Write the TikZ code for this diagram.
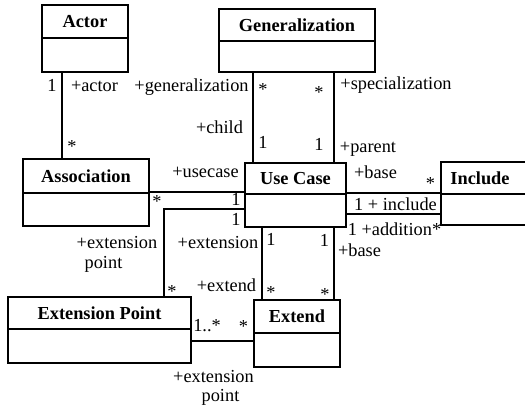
\documentclass[tikz,border=0pt]{standalone}
\usepackage{fontspec}
\setmainfont{Liberation Serif}
\tikzset{
  classbox/.style={draw, rectangle, line width=2bp, inner sep=0pt, outer sep=0pt},
  divider/.style={line width=2bp},
  classtitle/.style={font=\bfseries, inner sep=0pt},
  assocline/.style={line width=1.5bp},
  role/.style={anchor=base, inner sep=0pt},
}
% class box: name, x1, y1, x2, y2, y of the divider, title
\newcommand{\umlclass}[7]{%
  \node[classbox, minimum width={(#4-#2)*1bp}, minimum height={(#5-#3)*1bp}]
    (#1) at ({(#2+#4)/2},{(#3+#5)/2}) {};
  \draw[divider] (#2,#6) -- (#4,#6);
  \node[classtitle] (#1-title) at ({(#2+#4)/2},{(#3+#6)/2}) {#7};
}
\begin{document}
\begin{tikzpicture}[x=1bp, y=-1bp]
\fontsize{18.4}{22}\selectfont
\useasboundingbox (0,0) rectangle (525,409);
\clip (0,0) rectangle (525,409);

% classes
\umlclass{actor}{42}{5}{128}{72}{38}{Actor}
\umlclass{gen}{219}{9}{375}{72}{41}{Generalization}
\umlclass{assoc}{23}{159}{149}{226}{193}{Association}
\umlclass{uc}{245}{163}{346}{227}{194}{Use Case}
\umlclass{incl}{441}{162}{545}{225}{194}{}
\node[classtitle] (incl-name) at (480,178) {Include};
\umlclass{extpt}{8}{297}{191}{363}{329}{Extension Point}
\umlclass{extend}{254}{300}{340}{367}{333}{Extend}

% Actor -- Association
\draw[assocline] ([xshift=20bp]actor.south west) coordinate (a1) -- (a1 |- assoc.north);
% Generalization -- Use Case
\draw[assocline] ([xshift=34bp]gen.south west) coordinate (g1) -- (g1 |- uc.north);
\draw[assocline] ([xshift=115bp]gen.south west) coordinate (g2) -- (g2 |- uc.north);
% Association -- Use Case
\draw[assocline] ([yshift=-33bp]assoc.north east) coordinate (u1) -- (u1 -| uc.west);
% Use Case -- Extension Point
\draw[assocline] ([yshift=-46bp]uc.north west) -| ([xshift=156bp]extpt.north west);
% Use Case -- Extend
\draw[assocline] ([xshift=17bp]uc.south west) coordinate (x1) -- (x1 |- extend.north);
\draw[assocline] ([xshift=89bp]uc.south west) coordinate (x2) -- (x2 |- extend.north);
% Extension Point -- Extend
\draw[assocline] ([yshift=-44bp]extpt.north east) coordinate (p1) -- (p1 -| extend.west);
% Use Case -- Include
\draw[assocline] ([yshift=-31bp]incl.north west) coordinate (i1) -- (i1 -| uc.east);
\draw[assocline] ([yshift=-52bp]incl.north west) coordinate (i2) -- (i2 -| uc.east);

% role names and multiplicities
\node[role] (m-actor) at (52,91) {1};
\node[role] (r-actor) at (94.5,91) {+actor};
\node[role] (m-assoc) at (72,152) {*};
\node[role] (r-gen) at (191.5,91) {+generalization};
\node[role] (m-gen1) at (263,95) {*};
\node[role] (m-gen2) at (319,98) {*};
\node[role] (r-spec) at (396,89) {+specialization};
\node[role] (r-child) at (219.5,133) {+child};
\node[role] (m-child) at (263,148) {1};
\node[role] (m-parent) at (319,150) {1};
\node[role] (r-parent) at (368,152) {+parent};
\node[role] (r-usecase) at (205.5,177) {+usecase};
\node[role] (m-ucassoc) at (157,207) {*};
\node[role] (m-uc1) at (236,205) {1};
\node[role] (m-uc2) at (236,225) {1};
\node[role] (r-base1) at (375.5,178) {+base};
\node[role] (m-incl) at (430.5,189) {*};
\node[role] (r-include) at (395.5,210) {1 + include};
\node[role] (r-addition) at (394.5,235) {1 +addition*};
\node[role] (r-ext1a) at (117,248) {+extension};
\node[role] (r-ext1b) at (103.5,268) {point};
\node[role] (r-ext2) at (218,248) {+extension};
\node[role] (m-ext1) at (271,245) {1};
\node[role] (m-ext2) at (324.5,246) {1};
\node[role] (r-base2) at (359.5,256) {+base};
\node[role] (r-extend) at (226.5,291) {+extend};
\node[role] (m-extpt) at (172,297) {*};
\node[role] (m-extend1) at (271,298) {*};
\node[role] (m-extend2) at (325,300) {*};
\node[role] (m-pt) at (207,331) {1..*};
\node[role] (m-ptext) at (243.5,332) {*};
\node[role] (r-ext3a) at (213.5,382) {+extension};
\node[role] (r-ext3b) at (220.5,401) {point};
\end{tikzpicture}
\end{document}
